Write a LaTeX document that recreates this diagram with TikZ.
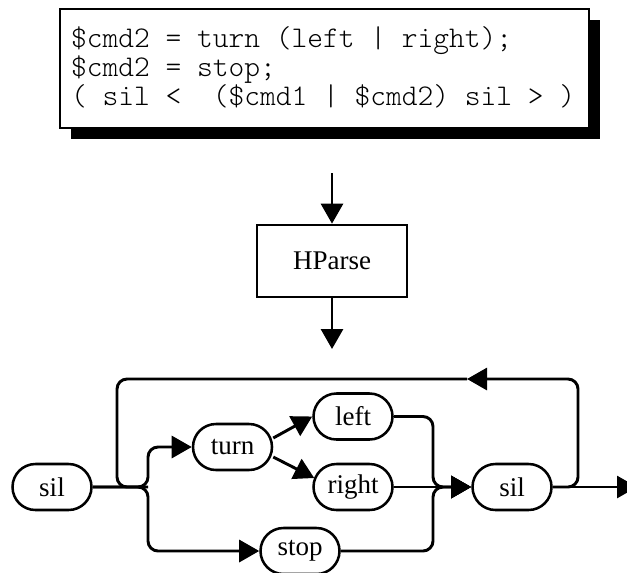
\documentclass[tikz,border=0pt]{standalone}
\usepackage{fontspec}
\setmainfont{Liberation Serif}
\newfontfamily\codefont[WordSpace={1,0,0}]{lmmonolt10-regular.otf}
\usetikzlibrary{arrows.meta,shapes.misc,shadows,calc}

\tikzset{
  conn/.style={line width=2.2pt, rounded corners=7.5pt},
  arr/.style={conn, -{Triangle[length=15pt,width=16.5pt]}},
  token/.style={rounded rectangle, draw, line width=1.9pt,
    minimum width=59.25pt, minimum height=34.5pt, inner sep=0pt,
    font=\fontsize{20.25}{24}\selectfont},
  toolbox/.style={rectangle, draw, line width=2pt,
    minimum width=112.5pt, minimum height=54pt, inner sep=0pt,
    font=\fontsize{20.25}{24}\selectfont},
  % fixed-pitch listing: keep every space one character wide
  codebox/.style={rectangle, draw, line width=1.5pt, fill=white,
    drop shadow={shadow xshift=8.25pt, shadow yshift=-8.25pt, opacity=1, fill=black},
    minimum width=396.75pt, minimum height=89.25pt,
    align=left, text width=380.25pt, inner xsep=8.25pt,
    text height=15pt, text depth=47.25pt,
    font=\codefont\fontsize{22.5}{18.75}\selectfont,
    execute at begin node={\spaceskip=0pt\xspaceskip=0pt}}
}

\begin{document}
\begin{tikzpicture}[x=0.75pt, y=-0.75pt]
  \useasboundingbox (0,0) rectangle (627,572);
  \clip (0,0) rectangle (627,572);

  % grammar definition
  \node[codebox] (code) at (324.5,68.5)
    {\$cmd2~=~turn~(left~|~right);\\
     \$cmd2~=~stop;\\
     (~sil~<~~(\$cmd1~|~\$cmd2)~sil~>~)};

  % the tool
  \coordinate (feed) at (332,173);
  \coordinate (result) at (332,349);
  \node[toolbox] (hparse) at (332,261) {HParse};
  \draw[arr] (feed) -- (hparse);
  \draw[arr] (hparse) -- (result);

  % word network
  \node[token] (sil1)  at (52,487)    {sil};
  \node[token] (turn)  at (232.5,447) {turn};
  \node[token] (left)  at (353,416.5) {left};
  \node[token] (right) at (353,487)   {right};
  \node[token] (stop)  at (300,551)   {stop};
  \node[token] (sil2)  at (512,487)   {sil};

  \coordinate (split)   at (148,487);
  \coordinate (merge)   at (433,487);
  \coordinate (loopR)   at (578,487);
  \coordinate (loopNE)  at (578,379);
  \coordinate (loopTip) at (467,379);
  \coordinate (loopNW)  at (117,379);
  \coordinate (loopSW)  at (117,487);
  \coordinate (exit)    at (637,487);

  \draw[arr] (sil1.east) -- (split) |- (turn.west);
  \draw[arr] (sil1.east) -- (split) |- (stop.west);
  \draw[arr] ($(turn.east)+(0,-9)$) -- (left.west);
  \draw[arr] ($(turn.east)+(0,10)$) -- ($(right.west)+(2,-9)$);
  \draw[arr] (left.east) -| (merge) -- (sil2.west);
  \draw[arr] (right.east) -- (sil2.west);
  \draw[arr] (stop.east) -| (merge) -- (sil2.west);
  \draw[arr] (sil2.east) -- (exit);
  \draw[arr] (sil2.east) -- (loopR) -- (loopNE) -- (loopTip);
  \draw[conn] (loopTip) -- (loopNW) -- (loopSW) -- (split);
\end{tikzpicture}
\end{document}
